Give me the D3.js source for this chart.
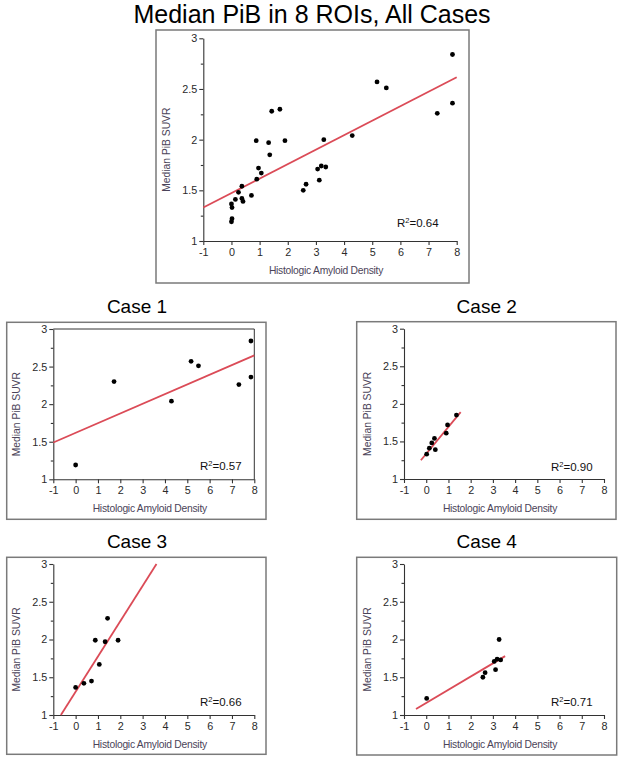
<!DOCTYPE html>
<html>
<head>
<meta charset="utf-8">
<script src="https://cdn.jsdelivr.net/npm/d3@7"></script>
<style>
  html, body { margin: 0; padding: 0; background: #fff; }
  svg { display: block; }
  text { font-family: "Liberation Sans", Arial, sans-serif; }
</style>
</head>
<body>
<svg id="chart" width="624" height="763"></svg>
<script>
// ---------- data ----------
const xTicks = [-1, 0, 1, 2, 3, 4, 5, 6, 7, 8];
const yTicks = [1, 1.5, 2, 2.5, 3];
const yMinorTicks = [1.25, 1.75, 2.25, 2.75];
const xTitle = "Histologic Amyloid Density";
const yTitle = "Median PiB SUVR";

const case1X = [0, 1.72, 4.29, 5.17, 5.50, 7.31, 7.85, 7.85];
const case1Y = [1.19, 2.30, 2.04, 2.57, 2.51, 2.26, 2.36, 2.84];
const case2X = [0.02, 0.14, 0.25, 0.37, 0.41, 0.90, 0.96, 1.36];
const case2Y = [1.33, 1.41, 1.48, 1.54, 1.39, 1.61, 1.72, 1.85];
const case3X = [0, 0.37, 0.71, 0.88, 1.06, 1.32, 1.43, 1.90];
const case3Y = [1.365, 1.42, 1.45, 1.99, 1.67, 1.97, 2.28, 1.99];
const case4X = [0.02, 2.55, 2.65, 3.06, 3.12, 3.19, 3.28, 3.35];
const case4Y = [1.22, 1.50, 1.56, 1.71, 1.60, 1.74, 2.00, 1.73];

// fitted regression lines: [x0, y0, x1, y1]
const fitMain = [-1, 1.33, 8, 2.615];
const fit1 = [-1, 1.49, 8, 2.65];
const fit2 = [-0.24, 1.25, 1.55, 1.89];
const fit3 = [-0.66, 1, 3.62, 3];
const fit4 = [-0.46, 1.08, 3.55, 1.78];

const r2Labels = ["0.64", "0.57", "0.90", "0.66", "0.71"];
const titles = ["Median PiB in 8 ROIs, All Cases", "Case 1", "Case 2", "Case 3", "Case 4"];

const mainX = [].concat(case1X, case2X, case3X, case4X);
const mainY = [].concat(case1Y, case2Y, case3Y, case4Y);

// ---------- layout ----------
const panels = [
  { title: titles[0], tx: 312, ty: 23, tsize: 25,
    box: [156, 30, 469, 283], ax: [203.3, 456.7], ay: [241, 38.3],
    xs: mainX, ys: mainY, fit: fitMain, r2: r2Labels[0], r2pos: [397, 227], frame: false },
  { title: titles[1], tx: 137, ty: 313, tsize: 19,
    box: [6.7, 322.3, 266, 519.3], ax: [53.3, 254.3], ay: [479.3, 329],
    xs: case1X, ys: case1Y, fit: fit1, r2: r2Labels[1], r2pos: [200, 470], frame: true },
  { title: titles[2], tx: 486.7, ty: 313, tsize: 19,
    box: [356.7, 321.7, 616, 519.3], ax: [404, 604], ay: [479, 328.7],
    xs: case2X, ys: case2Y, fit: fit2, r2: r2Labels[2], r2pos: [551, 471], frame: false },
  { title: titles[3], tx: 137, ty: 548, tsize: 19,
    box: [6.7, 557.3, 266, 754.3], ax: [53.3, 254.3], ay: [715, 564],
    xs: case3X, ys: case3Y, fit: fit3, r2: r2Labels[3], r2pos: [200, 706], frame: false },
  { title: titles[4], tx: 486.7, ty: 548, tsize: 19,
    box: [356.7, 557.3, 616.7, 755], ax: [404, 604], ay: [715, 564],
    xs: case4X, ys: case4Y, fit: fit4, r2: r2Labels[4], r2pos: [551, 706], frame: false }
];

const svg = d3.select("#chart");
svg.append("rect").attr("width", 624).attr("height", 763).attr("fill", "#fff");

const axisColor = "#333";
const boxColor = "#7a7a7a";
const titleColor = "#4b4459";
const lineColor = "#db4b57";

panels.forEach((p, i) => {
  const g = svg.append("g");
  // title
  g.append("text")
    .attr("x", p.tx).attr("y", p.ty)
    .attr("text-anchor", "middle")
    .attr("font-size", p.tsize)
    .attr("fill", "#000")
    .text(p.title);
  // outer box
  g.append("rect")
    .attr("x", p.box[0]).attr("y", p.box[1])
    .attr("width", p.box[2] - p.box[0]).attr("height", p.box[3] - p.box[1])
    .attr("fill", "none").attr("stroke", boxColor).attr("stroke-width", 1.5);

  const x = d3.scaleLinear().domain([-1, 8]).range(p.ax);
  const y = d3.scaleLinear().domain([1, 3]).range(p.ay);

  if (p.frame) {
    g.append("path")
      .attr("d", `M${x(-1)},${y(3)}H${x(8)}V${y(1)}`)
      .attr("fill", "none").attr("stroke", axisColor).attr("stroke-width", 1);
  }

  // axes
  const xa = g.append("g").attr("transform", `translate(0,${y(1)})`)
    .call(d3.axisBottom(x).tickValues(xTicks).tickSize(4).tickSizeOuter(0).tickPadding(3)
      .tickFormat(d => String(d)));
  const ya = g.append("g").attr("transform", `translate(${x(-1)},0)`)
    .call(d3.axisLeft(y).tickValues(yTicks).tickSize(4).tickSizeOuter(0).tickPadding(2)
      .tickFormat(d => String(d)));
  const ym = g.append("g").attr("transform", `translate(${x(-1)},0)`)
    .call(d3.axisLeft(y).tickValues(yMinorTicks).tickSize(2.5).tickFormat(""));
  ym.select(".domain").remove();
  [xa, ya, ym].forEach(a => {
    a.selectAll("path, line").attr("stroke", axisColor).attr("stroke-width", 1.1);
    a.selectAll("text").attr("font-size", 10.8).attr("fill", "#2a2a2a")
      .attr("font-family", "'Liberation Sans', Arial, sans-serif");
  });

  // axis titles
  g.append("text")
    .attr("x", (p.ax[0] + p.ax[1]) / 2 - 4).attr("y", y(1) + 33)
    .attr("text-anchor", "middle").attr("font-size", 10.3)
    .attr("letter-spacing", -0.25)
    .attr("fill", titleColor).text(xTitle);
  g.append("text")
    .attr("transform", `translate(${x(-1) - 33},${(p.ay[0] + p.ay[1]) / 2 + 10}) rotate(-90)`)
    .attr("text-anchor", "middle").attr("font-size", 10.3)
    .attr("fill", titleColor).text(yTitle);

  // regression line
  g.append("line")
    .attr("x1", x(p.fit[0])).attr("y1", y(p.fit[1]))
    .attr("x2", x(p.fit[2])).attr("y2", y(p.fit[3]))
    .attr("stroke", lineColor).attr("stroke-width", 1.8);

  // points
  g.selectAll("circle.pt").data(p.xs.map((v, k) => [v, p.ys[k]]))
    .join("circle").attr("class", "pt")
    .attr("cx", d => x(d[0])).attr("cy", d => y(d[1]))
    .attr("r", 2.4).attr("fill", "#000");

  // R^2 label
  const t = g.append("text")
    .attr("x", p.r2pos[0]).attr("y", p.r2pos[1])
    .attr("font-size", 11.5).attr("fill", "#111");
  t.append("tspan").text("R");
  t.append("tspan").attr("font-size", 7.5).attr("dy", -4.5).text("2");
  t.append("tspan").attr("dy", 4.5).text("=" + p.r2);
});
</script>
</body>
</html>
